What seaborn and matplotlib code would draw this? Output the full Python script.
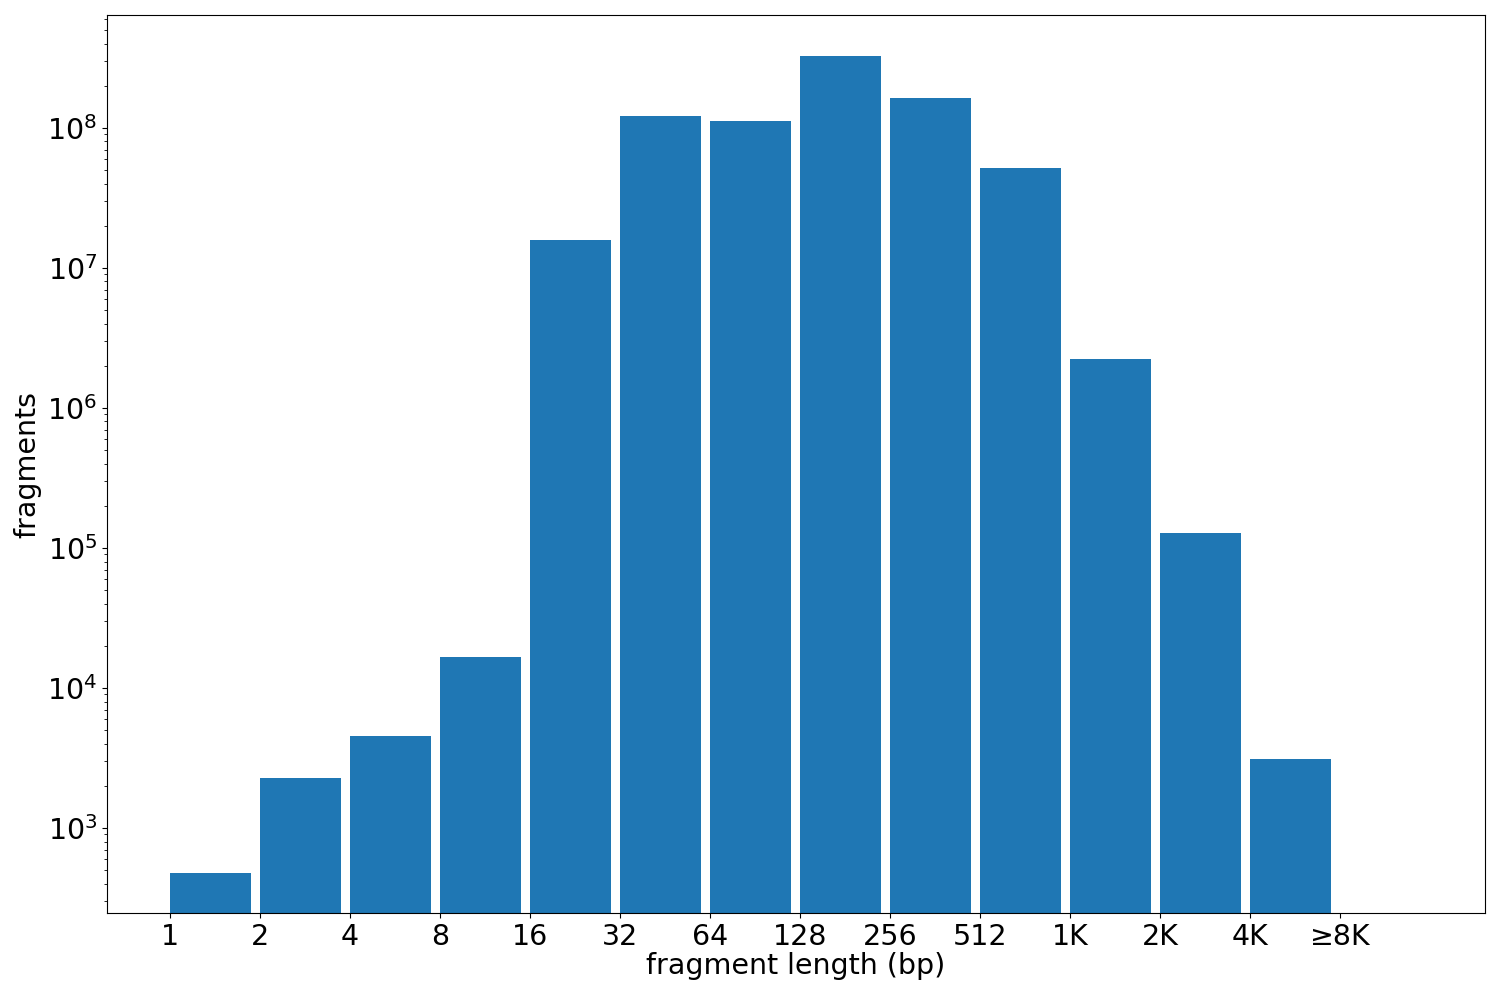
import matplotlib
matplotlib.use("Agg")
import matplotlib.pyplot as plt
import seaborn as sns
import pandas as pd
import numpy as np

bins = ["1", "2", "4", "8", "16", "32", "64", "128", "256", "512", "1K", "2K", "4K"]
tick_labels = ["1", "2", "4", "8", "16", "32", "64", "128", "256", "512", "1K", "2K", "4K", "≥8K"]
counts = [477, 2277, 4540, 16600, 1.58e7, 1.22e8, 1.12e8, 3.27e8, 1.64e8, 5.2e7, 2.24e6, 1.28e5, 3110]

df = pd.DataFrame({"bin": bins, "count": counts})
plt.rcParams["font.family"] = ["DejaVu Sans"]
fig, ax = plt.subplots(figsize=(15, 10), dpi=100)
sns.barplot(data=df, x="bin", y="count", color="#1f77b4", saturation=1, width=0.9, ax=ax)
ax.set_yscale("log")
ax.set_ylim(247, 6.4e8)
ax.set_xticks(np.arange(len(tick_labels)) - 0.45)
ax.set_xticklabels(tick_labels)
ax.set_xlim(-1.15, 14.16)
ax.tick_params(labelsize=20.5)
ax.set_xlabel("fragment length (bp)", fontsize=20.5, labelpad=1)
ax.set_ylabel("fragments", fontsize=20.5, labelpad=4)
fig.subplots_adjust(left=0.0713, right=0.99, top=0.985, bottom=0.087)
fig.savefig("out.png")
